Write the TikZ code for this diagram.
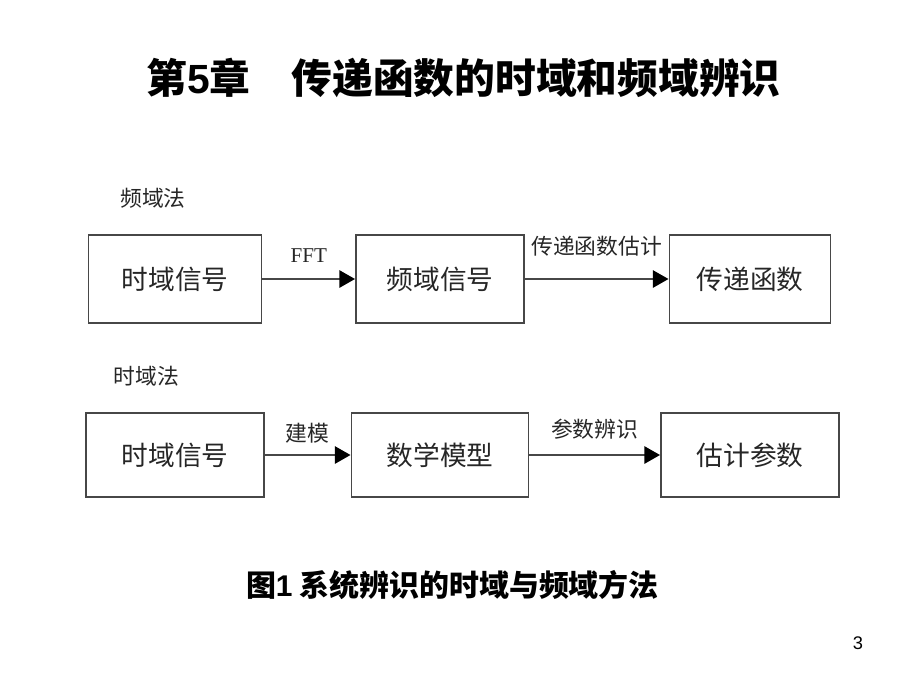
\documentclass[tikz,border=0pt]{standalone}
\usepackage{fontspec}
\usepackage{xcolor}
\usepackage{tikz}
\setmainfont{Noto Sans CJK SC}
\newfontfamily\arialfont{Liberation Sans}
\newfontfamily\timesfont{Liberation Serif}
\usetikzlibrary{shapes,arrows,positioning,calc,arrows.meta}
\definecolor{linegray}{gray}{0.28}
\definecolor{textgray}{gray}{0.15}

\begin{document}
\begin{tikzpicture}[id block/.style={draw=linegray, line width=1.4pt, rectangle, minimum height=2.2cm, align=center, text=textgray, font=\fontsize{19}{22}\selectfont},
    id arrow/.style={line width=1.4pt, draw=linegray, -{Triangle[length=3.9mm, width=4.3mm, color=black]}},
    id label/.style={text=textgray, font=\fontsize{15.5}{18}\selectfont},
    node distance=6.625cm]
    \useasboundingbox (0,0) rectangle (23,-17.25);

    \node[font=\bfseries\fontsize{29}{34}\selectfont] (title) at (11.59,-1.95) {第{\arialfont\bfseries 5}章　传递函数的时域和频域辨识};

    % frequency-domain method
    \node[id label] (fdm) at (3.825,-4.95) {频域法};
    \node[id block, minimum width=4.325cm] (tsig) at (4.375,-6.975) {时域信号};
    \node[id block, minimum width=4.2cm, right of=tsig] (fsig) {频域信号};
    \node[id block, minimum width=4.025cm, node distance=7.75cm, right of=fsig] (tf) {传递函数};

    \draw[id arrow] (tsig) -- node[midway, above=2.8mm, text=textgray, font=\timesfont\fontsize{15}{17}\selectfont] (fft) {FFT} (fsig);
    \draw[id arrow] (fsig) -- node[id label, midway, above=4.3mm] (tfe) {传递函数估计} (tf);

    % time-domain method
    \node[id label] (tdm) at (3.66,-9.4) {时域法};
    \node[id block, minimum width=4.45cm, minimum height=2.1cm, node distance=4.4cm, below of=tsig] (tsig2) {时域信号};
    \node[id block, minimum width=4.425cm, minimum height=2.1cm, right of=tsig2] (model) {数学模型};
    \node[id block, minimum width=4.45cm, minimum height=2.1cm, node distance=7.75cm, right of=model] (param) {估计参数};

    \draw[id arrow] (tsig2) -- node[id label, midway, above=1.5mm] (build) {建模} (model);
    \draw[id arrow] (model) -- node[id label, midway, above=2.5mm] (pid) {参数辨识} (param);

    \node[font=\bfseries\fontsize{21.3}{25}\selectfont] (cap) at (11.31,-14.625) {图{\arialfont\bfseries 1} 系统辨识的时域与频域方法};
    \node[font=\arialfont\fontsize{13}{15}\selectfont] (pg) at (21.45,-16.075) {3};
\end{tikzpicture}
\end{document}
